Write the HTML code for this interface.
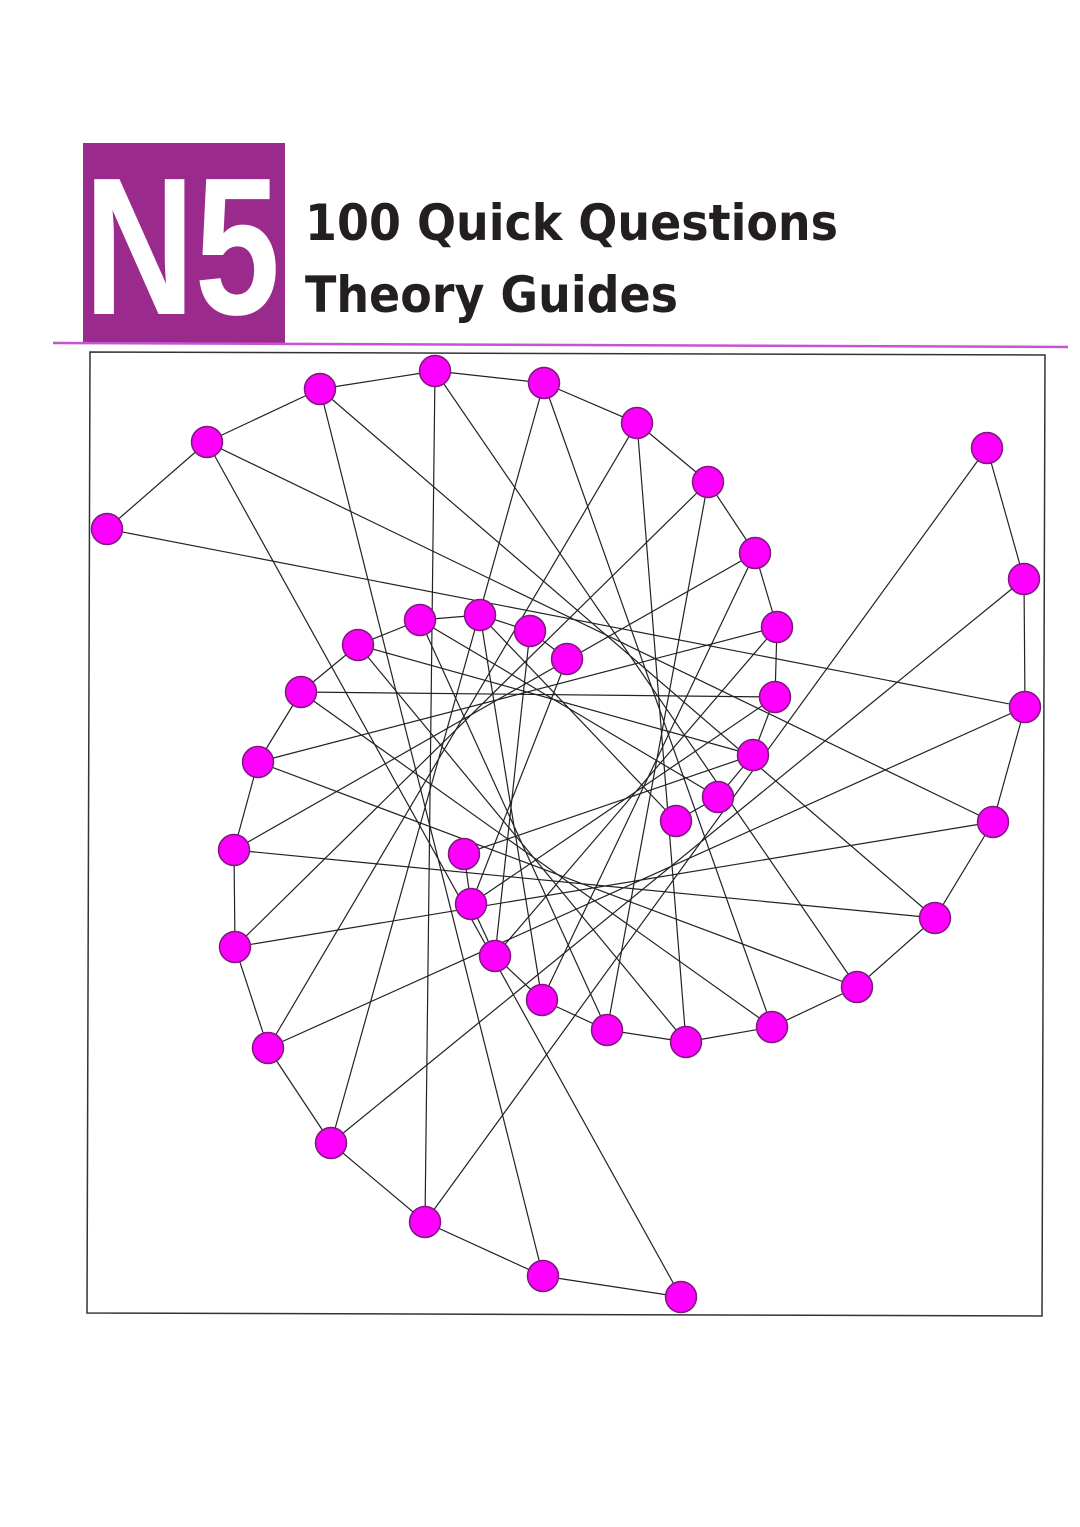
<!DOCTYPE html>
<html><head><meta charset="utf-8">
<style>
html,body{margin:0;padding:0;background:#fff;}
svg{display:block;}
</style></head>
<body>
<svg id="s" width="1080" height="1527" viewBox="0 0 1080 1527" xmlns="http://www.w3.org/2000/svg">
<rect x="0" y="0" width="1080" height="1527" fill="#fff"/>
<rect x="83" y="143" width="202" height="200" fill="#9a2a8c"/>
<text x="84" y="314" font-family="Liberation Sans, sans-serif" font-weight="bold" font-size="196" fill="#fff" textLength="196" lengthAdjust="spacingAndGlyphs">N5</text>
<text x="305" y="240" font-family="DejaVu Sans, Liberation Sans, sans-serif" font-weight="bold" font-size="50" fill="#231f20" textLength="533" lengthAdjust="spacingAndGlyphs">100 Quick Questions</text>
<text x="305" y="312" font-family="DejaVu Sans, Liberation Sans, sans-serif" font-weight="bold" font-size="50" fill="#231f20" textLength="373" lengthAdjust="spacingAndGlyphs">Theory Guides</text>
<line x1="53" y1="343" x2="1068" y2="347" stroke="#c455d2" stroke-width="2.5"/>
<polygon points="90,352 1045,355 1042,1316 87,1313" fill="none" stroke="#333" stroke-width="1.5"/>
<g id="edges" stroke="#222" stroke-width="1.2"></g>
<g id="nodes" fill="#ff00ff" stroke="#7a1a7a" stroke-width="1.5"></g>
</svg>
<script>
var A=[[107,529],[207,442],[320,389],[435,371],[544,383],[637,423],[708,482],[755,553],[777,627],[775,697],[753,755],[718,797],[676,821]];
var B=[[987,448],[1024,579],[1025,707],[993,822],[935,918],[857,987],[772,1027],[686,1042],[607,1030],[542,1000],[495,956],[471,904],[464,854]];
var C=[[681,1297],[543,1276],[425,1222],[331,1143],[268,1048],[235,947],[234,850],[258,762],[301,692],[358,645],[420,620],[480,615],[530,631],[567,659]];
var ns="http://www.w3.org/2000/svg";
var E=document.getElementById("edges"),N=document.getElementById("nodes");
function L(p,q){var l=document.createElementNS(ns,"line");l.setAttribute("x1",p[0]);l.setAttribute("y1",p[1]);l.setAttribute("x2",q[0]);l.setAttribute("y2",q[1]);E.appendChild(l);}
function path(X){for(var i=0;i<X.length-1;i++)L(X[i],X[i+1]);}
path(A);path(B);path(C);
// A_i (1-indexed) -> B_{i+2}, C_{i-1}
for(var i=1;i<=13;i++){
  if(i+2<=13)L(A[i-1],B[i+1]);
  if(i-1>=1)L(A[i-1],C[i-2]);
}
// B_j -> C_{j+2}
for(var j=1;j<=13;j++){ if(j+2<=14)L(B[j-1],C[j+1]); }
[A,B,C].forEach(function(X){X.forEach(function(p){var c=document.createElementNS(ns,"circle");c.setAttribute("cx",p[0]);c.setAttribute("cy",p[1]);c.setAttribute("r",15.5);N.appendChild(c);});});
</script>
</body></html>
